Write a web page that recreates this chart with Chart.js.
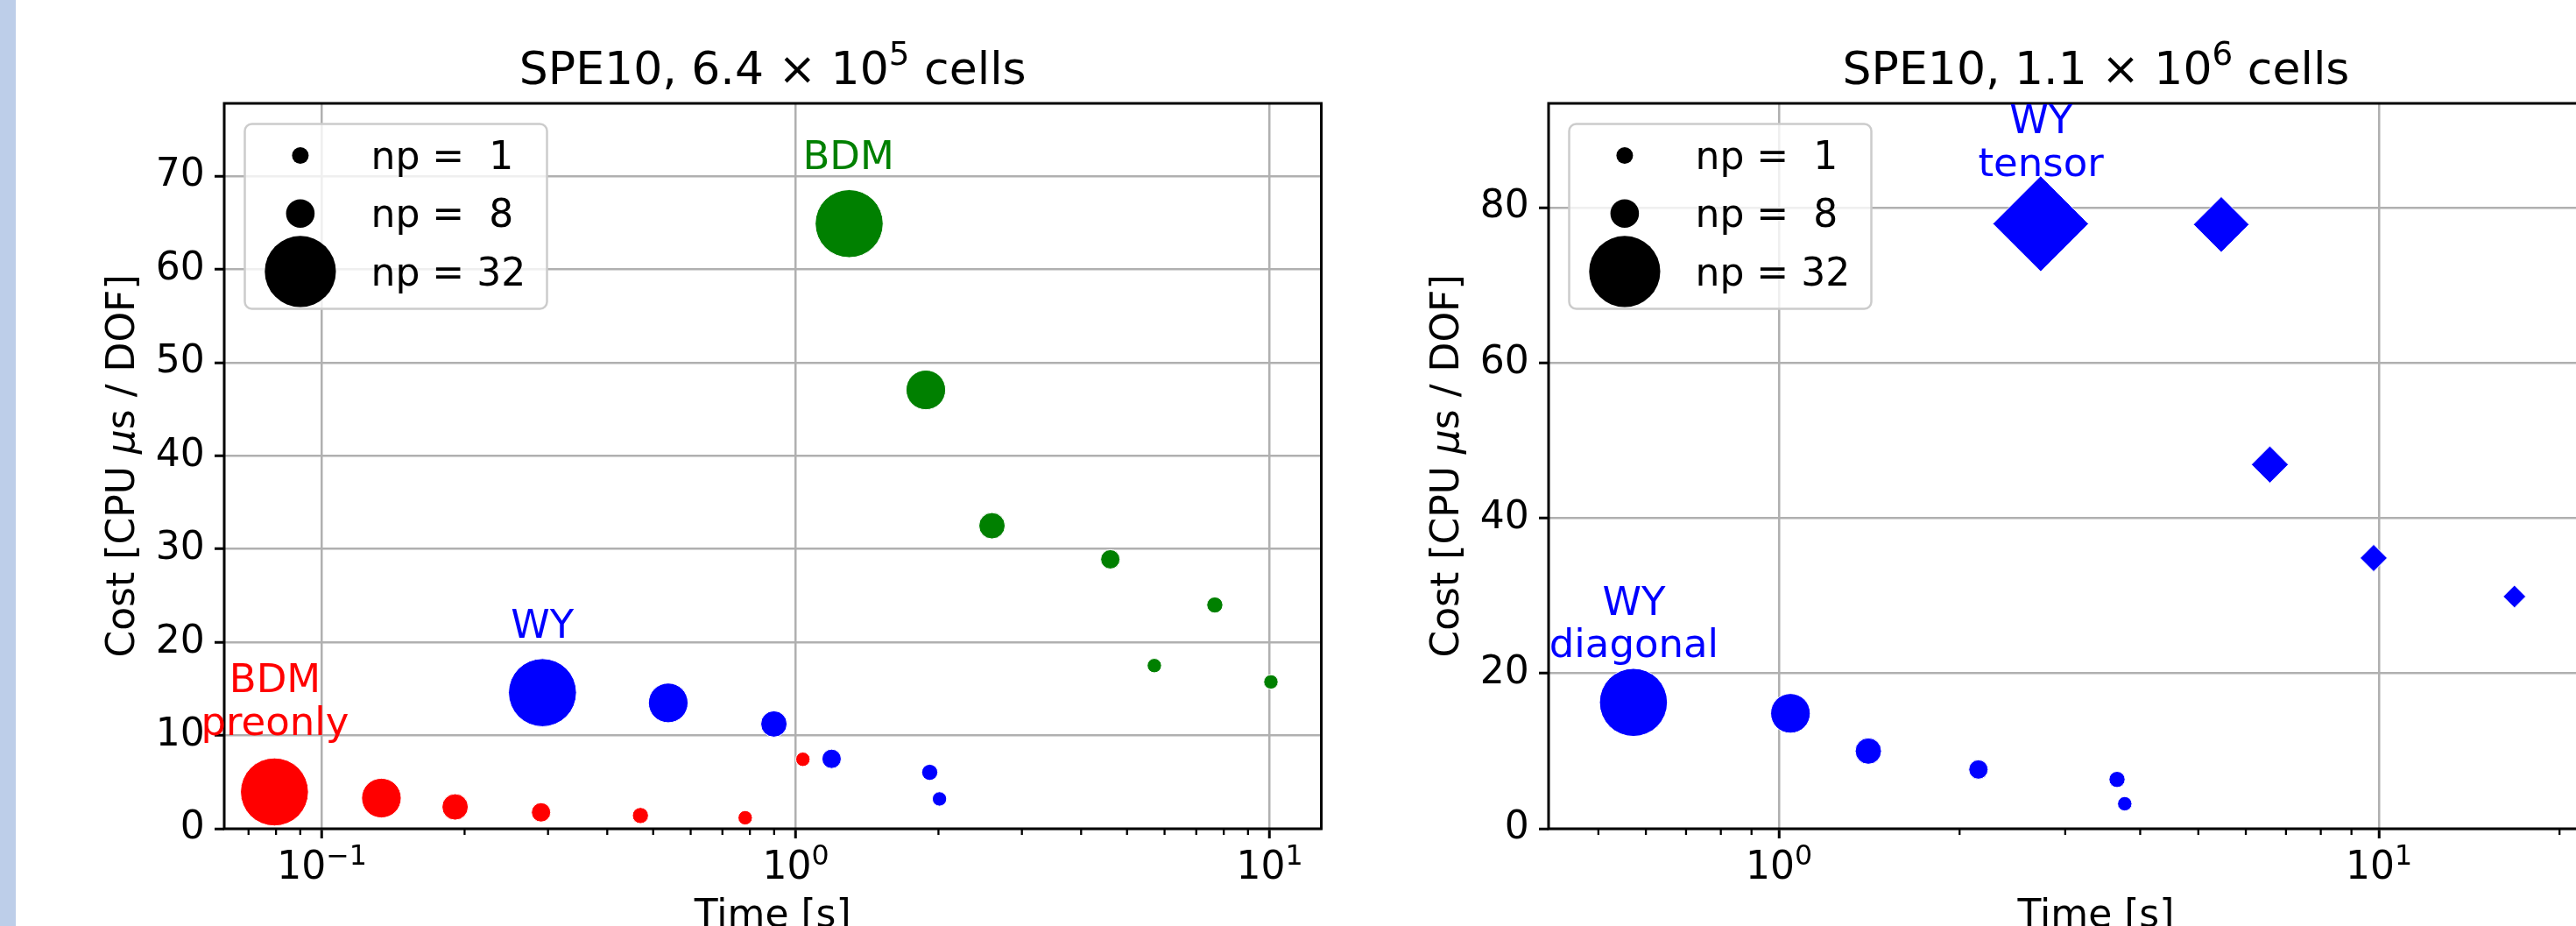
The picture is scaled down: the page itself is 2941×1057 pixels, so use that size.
<!DOCTYPE html>
<html>
<head>
<meta charset="utf-8">
<script src="https://cdn.jsdelivr.net/npm/chart.js@4.4.1/dist/chart.umd.min.js"></script>
<style>
  html, body { margin: 0; padding: 0; background: #fff; overflow: hidden; }
  #page { position: relative; width: 2941px; height: 1057px; overflow: hidden; background: #fff; }
  #strip { position: absolute; left: 0; top: 0; width: 18px; height: 1057px; background: #bdcee9; }
  #left { position: absolute; left: 18px; top: 0; }
  #right { position: absolute; left: 1560px; top: 0; }
</style>
</head>
<body>
<div id="page">
  <div id="strip"></div>
  <canvas id="left" width="1726" height="1100"></canvas>
  <canvas id="right" width="1664" height="1100"></canvas>
</div>
<script>
Chart.defaults.font.family = 'DejaVu Sans';
Chart.defaults.color = '#000';

// left panel: SPE10, 6.4e5 cells
const bdmPreTime = [0.0794, 0.1335, 0.191, 0.290, 0.470, 0.782, 1.035];
const bdmPreCost = [3.95, 3.29, 2.34, 1.76, 1.42, 1.18, 7.45];
const bdmPreNp   = [32, 16, 8, 4, 2, 1, 1];

const wyTime = [0.292, 0.538, 0.899, 1.19, 1.917, 2.01];
const wyCost = [14.6, 13.5, 11.24, 7.5, 6.05, 3.2];
const wyNp   = [32, 16, 8, 4, 2, 1];

const bdmTime = [1.296, 1.881, 2.594, 4.61, 7.66, 5.71, 10.06];
const bdmCost = [64.9, 47.07, 32.5, 28.9, 24.0, 17.5, 15.75];
const bdmNp   = [32, 16, 8, 4, 2, 1, 1];

// right panel: SPE10, 1.1e6 cells
const wyDiagTime = [0.572, 1.045, 1.409, 2.15, 3.66, 3.77];
const wyDiagCost = [16.27, 14.86, 10.0, 7.63, 6.35, 3.22];
const wyDiagNp   = [32, 16, 8, 4, 2, 1];

const wyTensTime = [2.73, 5.46, 6.58, 9.80, 16.82];
const wyTensCost = [77.9, 77.8, 46.9, 34.86, 29.9];
const wyTensNp   = [32, 16, 8, 4, 2];

const legendNp = [1, 8, 32];
const xTickValues = [0.1, 1, 10];
const xTickExponents = ['\u22121', '0', '1'];
const leftYTicks = [0, 10, 20, 30, 40, 50, 60, 70];
const rightYTicks = [0, 20, 40, 60, 80];

const RED = '#ff0000', BLUE = '#0000ff', GREEN = '#008000';

// marker radius per process count
const radiusForNp = {1: 8.2, 2: 9.2, 4: 11, 8: 15, 16: 22.6, 32: 38.8};
const legendRadius = {1: 9.5, 8: 16.3, 32: 40.6};

function series(time, cost, np, color, style) {
  const diamond = style === 'rectRot';
  return {
    data: time.map((t, i) => ({x: t, y: cost[i]})),
    pointRadius: np.map(n => radiusForNp[n] * (diamond ? 1.41 : 1)),
    pointStyle: style || 'circle',
    backgroundColor: color,
    borderColor: '#fff',
    borderWidth: 1,
    showLine: false
  };
}

// text with superscript / italic pieces, centred on cx
function fontFor(p, size) {
  return (p.it ? 'italic ' : '') + (p.sup ? size * 0.72 : size) + 'px "DejaVu Sans"';
}
function drawRich(ctx, parts, cx, baseline, size, raise) {
  let w = 0;
  parts.forEach(p => { ctx.font = fontFor(p, size); w += ctx.measureText(p.t).width; });
  let x = cx - w / 2;
  ctx.textAlign = 'left';
  ctx.textBaseline = 'alphabetic';
  parts.forEach(p => {
    ctx.font = fontFor(p, size);
    ctx.fillText(p.t, x, baseline - (p.sup ? size * raise : 0));
    x += ctx.measureText(p.t).width;
  });
}

const yTitleParts = [{t: 'Cost [CPU '}, {t: '\u03bc', it: true}, {t: 's / DOF]'}];

// spines, minor ticks, titles, text labels and the np legend
function decor(titleParts, notes) {
  return {
    id: 'decor',
    afterDatasetsDraw(chart) {
      const {ctx, chartArea: a, scales: {x, y}} = chart;
      ctx.save();
      ctx.strokeStyle = '#000';
      ctx.lineWidth = 2.3;
      for (let e = -2; e <= 1; e++) {
        for (let m = 2; m <= 9; m++) {
          const v = m * Math.pow(10, e);
          if (v < x.min || v > x.max) continue;
          const px = x.getPixelForValue(v);
          ctx.beginPath();
          ctx.moveTo(px, a.bottom);
          ctx.lineTo(px, a.bottom + 7);
          ctx.stroke();
        }
      }
      ctx.lineWidth = 3;
      ctx.strokeRect(a.left, a.top, a.right - a.left, a.bottom - a.top);

      ctx.fillStyle = '#000';
      xTickValues.forEach((v, i) => {
        if (v < x.min || v > x.max) return;
        drawRich(ctx, [{t: '10'}, {t: xTickExponents[i], sup: true}], x.getPixelForValue(v), a.bottom + 57.3, 44, 0.38);
      });
      drawRich(ctx, titleParts, (a.left + a.right) / 2, 96, 52, 0.42);
      ctx.save();
      ctx.translate(a.left - 103, (a.top + a.bottom) / 2);
      ctx.rotate(-Math.PI / 2);
      drawRich(ctx, yTitleParts, 0, 0, 44, 0);
      ctx.restore();

      notes.forEach(n => {
        ctx.fillStyle = n.color;
        ctx.font = '45px "DejaVu Sans"';
        ctx.textAlign = 'center';
        ctx.textBaseline = 'alphabetic';
        const px = x.getPixelForValue(n.x), py = y.getPixelForValue(n.y);
        n.lines.forEach((s, i) => ctx.fillText(s, px, py - (n.lines.length - 1 - i) * 48.5));
      });

      const fx = a.left + 23.5, fy = a.top + 23.5;
      ctx.beginPath();
      ctx.roundRect(fx, fy, 345, 211, 8);
      ctx.fillStyle = 'rgba(255,255,255,0.8)';
      ctx.fill();
      ctx.strokeStyle = '#cccccc';
      ctx.lineWidth = 2.5;
      ctx.stroke();
      ctx.font = '44px "DejaVu Sans"';
      ctx.textAlign = 'left';
      ctx.fillStyle = '#000';
      legendNp.forEach((n, i) => {
        const cy = fy + 36 + i * 66.2;
        ctx.beginPath();
        ctx.arc(fx + 63.4, cy, legendRadius[n], 0, 2 * Math.PI);
        ctx.fill();
        ctx.fillText('np = ' + String(n).padStart(2, ' '), fx + 144, cy + 15.6);
      });
      ctx.restore();
    }
  };
}

function axes(xMin, xMax, yMax, yTicks, yWidth) {
  const grid = {color: '#b0b0b0', lineWidth: 2.5, tickColor: '#000', tickLength: 11, tickWidth: 3};
  return {
    x: {
      type: 'logarithmic', min: xMin, max: xMax, bounds: 'data',
      afterBuildTicks: s => { s.ticks = xTickValues.filter(v => v >= s.min && v <= s.max).map(v => ({value: v})); },
      ticks: {callback: () => '', font: {size: 44}, padding: 4.7, maxRotation: 0, autoSkip: false},
      grid: grid,
      border: {display: false},
      title: {display: true, text: 'Time [s]', font: {size: 44}, padding: {top: 0, bottom: 26.6}},
      afterFit: s => { s.height = 154; }
    },
    y: {
      type: 'linear', min: 0, max: yMax, bounds: 'data',
      afterBuildTicks: s => { s.ticks = yTicks.map(v => ({value: v})); },
      ticks: {font: {size: 44}, padding: 11.3},
      grid: grid,
      border: {display: false},
      afterFit: s => { s.width = yWidth; }
    }
  };
}

function baseOptions(padRight, scales) {
  return {
    responsive: false, animation: false, events: [], devicePixelRatio: 1,
    layout: {padding: {left: 0, top: 118, right: padRight, bottom: 0}},
    plugins: {legend: {display: false}, tooltip: {enabled: false}, title: {display: false}},
    scales: scales
  };
}

new Chart(document.getElementById('left'), {
  type: 'scatter',
  data: {
    datasets: [
      series(bdmPreTime, bdmPreCost, bdmPreNp, RED),
      series(wyTime, wyCost, wyNp, BLUE),
      series(bdmTime, bdmCost, bdmNp, GREEN)
    ]
  },
  options: baseOptions(235.5, axes(0.0622, 12.85, 77.8, leftYTicks, 238)),
  plugins: [decor(
    [{t: 'SPE10, 6.4 \u00d7 10'}, {t: '5', sup: true}, {t: ' cells'}],
    [
      {lines: ['BDM'], x: 1.291, y: 70.79, color: GREEN},
      {lines: ['WY'], x: 0.292, y: 20.5, color: BLUE},
      {lines: ['BDM', 'preonly'], x: 0.0796, y: 10.07, color: RED}
    ])]
});

new Chart(document.getElementById('right'), {
  type: 'scatter',
  data: {
    datasets: [
      series(wyDiagTime, wyDiagCost, wyDiagNp, BLUE),
      series(wyTensTime, wyTensCost, wyTensNp, BLUE, 'rectRot')
    ]
  },
  options: baseOptions(206, axes(0.413, 27.6, 93.4, rightYTicks, 208)),
  plugins: [decor(
    [{t: 'SPE10, 1.1 \u00d7 10'}, {t: '6', sup: true}, {t: ' cells'}],
    [
      {lines: ['WY', 'tensor'], x: 2.733, y: 84.08, color: BLUE},
      {lines: ['WY', 'diagonal'], x: 0.573, y: 22.06, color: BLUE}
    ])]
});
</script>
</body>
</html>
